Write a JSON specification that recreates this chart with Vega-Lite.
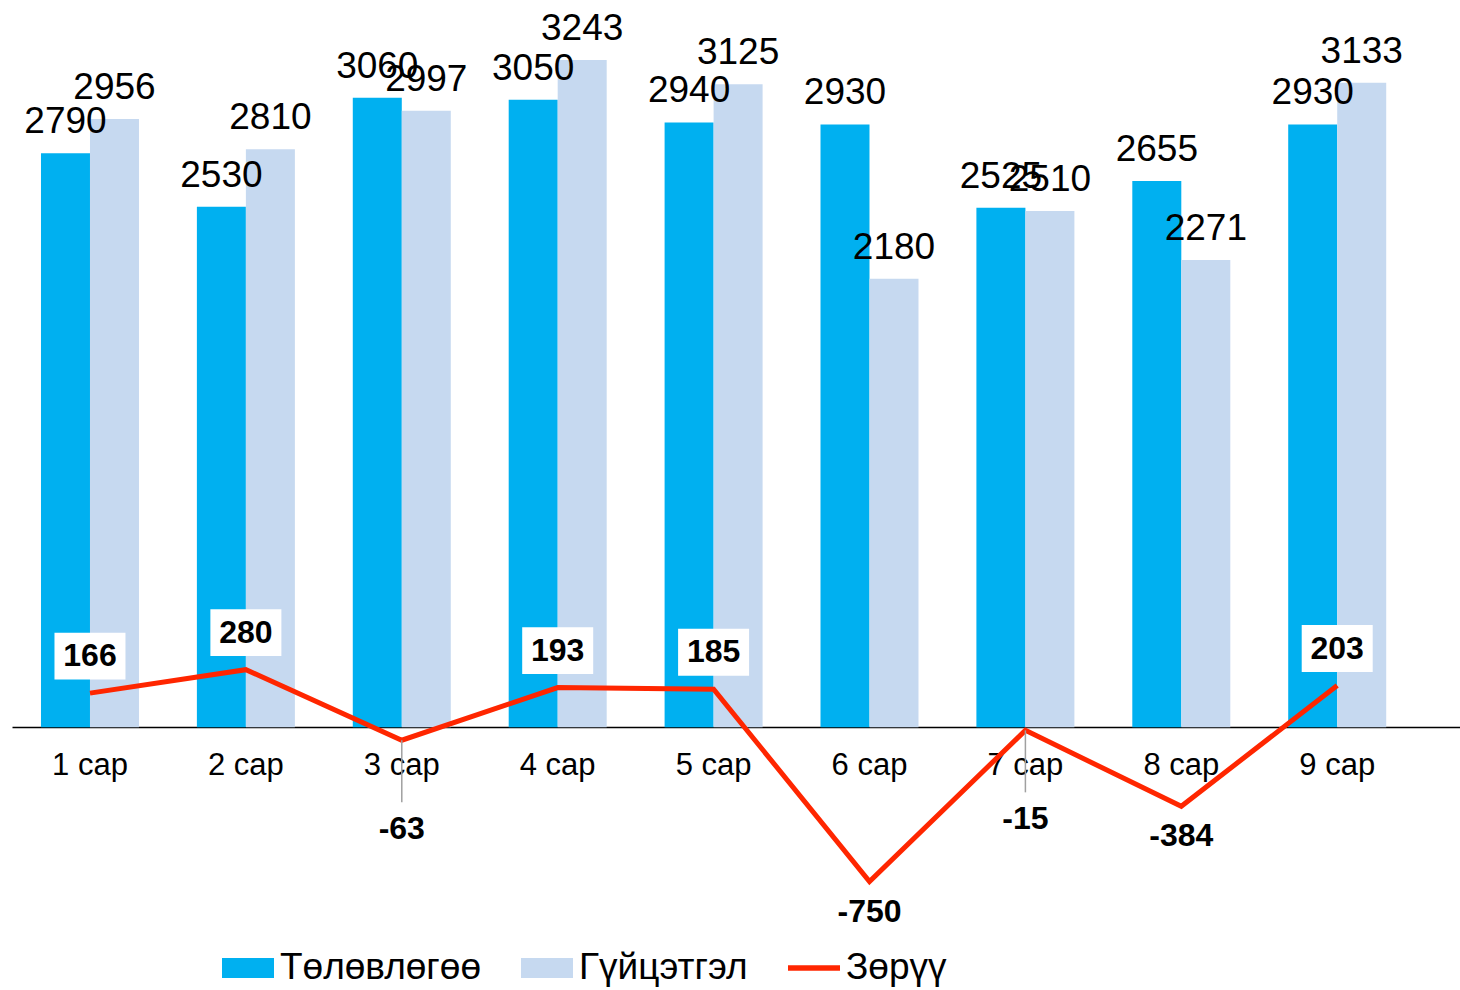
{
  "$schema": "https://vega.github.io/schema/vega-lite/v6.json",
  "width": 1448,
  "height": 933,
  "autosize": {"type": "none"},
  "padding": {"left": 12, "top": 0, "right": 0, "bottom": 57},
  "background": "white",
  "config": {"view": {"stroke": null}, "font": "Liberation Sans"},
  "data": {"values": [
    {"month": "1 сар", "Төлөвлөгөө": 2790, "Гүйцэтгэл": 2956, "Зөрүү": 166},
    {"month": "2 сар", "Төлөвлөгөө": 2530, "Гүйцэтгэл": 2810, "Зөрүү": 280},
    {"month": "3 сар", "Төлөвлөгөө": 3060, "Гүйцэтгэл": 2997, "Зөрүү": -63},
    {"month": "4 сар", "Төлөвлөгөө": 3050, "Гүйцэтгэл": 3243, "Зөрүү": 193},
    {"month": "5 сар", "Төлөвлөгөө": 2940, "Гүйцэтгэл": 3125, "Зөрүү": 185},
    {"month": "6 сар", "Төлөвлөгөө": 2930, "Гүйцэтгэл": 2180, "Зөрүү": -750},
    {"month": "7 сар", "Төлөвлөгөө": 2525, "Гүйцэтгэл": 2510, "Зөрүү": -15},
    {"month": "8 сар", "Төлөвлөгөө": 2655, "Гүйцэтгэл": 2271, "Зөрүү": -384},
    {"month": "9 сар", "Төлөвлөгөө": 2930, "Гүйцэтгэл": 3133, "Зөрүү": 203}
  ]},
  "encoding": {
    "x": {
      "field": "month", "type": "nominal", "sort": null,
      "scale": {"paddingInner": 0.3714, "paddingOuter": 0.3296, "align": 0.282},
      "axis": {"title": null, "orient": "bottom", "offset": -206, "domainColor": "#000000", "domainWidth": 1.5,
               "ticks": false, "tickSize": 0, "labelFontSize": 31, "labelColor": "#000000", "labelPadding": 23,
               "labelAngle": 0, "grid": false, "labelFont": "Liberation Sans"}
    }
  },
  "layer": [
    {
      "transform": [{"fold": ["Төлөвлөгөө", "Гүйцэтгэл"], "as": ["series", "value"]}],
      "encoding": {
        "xOffset": {"field": "series", "type": "nominal", "sort": ["Төлөвлөгөө", "Гүйцэтгэл"], "scale": {"paddingInner": 0, "paddingOuter": 0}},
        "y": {"field": "value", "type": "quantitative", "scale": {"domain": [-1000, 3535], "nice": false, "zero": true}, "axis": null}
      },
      "layer": [
        {
          "mark": {"type": "bar"},
          "encoding": {
            "color": {
              "field": "series", "type": "nominal",
              "scale": {"domain": ["Төлөвлөгөө", "Гүйцэтгэл", "Зөрүү"], "range": ["#00B0F0", "#C6D9F0", "#FF2600"]},
              "legend": {
                "title": null, "orient": "none", "legendX": 210, "legendY": 942, "direction": "horizontal",
                "labelFontSize": 37, "labelFont": "Liberation Sans", "labelColor": "#000000",
                "symbolSize": 2704, "labelOffset": 6, "columnPadding": 40, "padding": 0, "labelLimit": 400,
                "symbolStrokeWidth": 0,
                "encode": {"symbols": {"update": {
                  "shape": {"signal": "datum.value === 'Зөрүү' ? 'M-1,-0.11L1,-0.11L1,0.11L-1,0.11Z' : 'M-1,-0.38L1,-0.38L1,0.38L-1,0.38Z'"},
                  "fill": {"scale": "color", "field": "value"},
                  "strokeWidth": {"value": 0},
                  "opacity": {"value": 1}
                }}}
              }
            }
          }
        },
        {
          "mark": {"type": "text", "fontSize": 37, "dy": -20, "baseline": "alphabetic", "color": "#000000"},
          "encoding": {"text": {"field": "value", "type": "nominal"}}
        }
      ]
    },
    {
      "mark": {"type": "line", "color": "#FF2600", "strokeWidth": 5},
      "encoding": {"y": {"field": "Зөрүү", "type": "quantitative", "scale": {"domain": [-1000, 3535], "nice": false, "zero": true}, "axis": null}}
    },
    {
      "transform": [{"filter": "datum['Зөрүү'] < 0 && datum['Зөрүү'] > -100"}],
      "mark": {"type": "rule", "color": "#A0A0A0", "strokeWidth": 1.5, "y2Offset": 62},
      "encoding": {
        "y": {"field": "Зөрүү", "type": "quantitative", "scale": {"domain": [-1000, 3535], "nice": false, "zero": true}, "axis": null},
        "y2": {"field": "Зөрүү"}
      }
    },
    {
      "transform": [{"filter": "datum['Зөрүү'] > 0"}],
      "mark": {"type": "point", "shape": "M-1,-0.66L1,-0.66L1,0.66L-1,0.66Z", "size": 5041, "filled": true, "fill": "#FFFFFF", "opacity": 1, "strokeWidth": 0, "yOffset": -37},
      "encoding": {"y": {"field": "Зөрүү", "type": "quantitative", "scale": {"domain": [-1000, 3535], "nice": false, "zero": true}, "axis": null}}
    },
    {
      "transform": [{"filter": "datum['Зөрүү'] > 0"}],
      "mark": {"type": "text", "fontSize": 32, "fontWeight": "bold", "dy": -37, "baseline": "middle", "color": "#000000"},
      "encoding": {
        "y": {"field": "Зөрүү", "type": "quantitative", "scale": {"domain": [-1000, 3535], "nice": false, "zero": true}, "axis": null},
        "text": {"field": "Зөрүү", "type": "nominal"}
      }
    },
    {
      "transform": [{"filter": "datum['Зөрүү'] < 0 && datum['Зөрүү'] > -100"}],
      "mark": {"type": "text", "fontSize": 32, "fontWeight": "bold", "dy": 89, "baseline": "middle", "color": "#000000"},
      "encoding": {
        "y": {"field": "Зөрүү", "type": "quantitative", "scale": {"domain": [-1000, 3535], "nice": false, "zero": true}, "axis": null},
        "text": {"field": "Зөрүү", "type": "nominal"}
      }
    },
    {
      "transform": [{"filter": "datum['Зөрүү'] <= -100"}],
      "mark": {"type": "text", "fontSize": 32, "fontWeight": "bold", "dy": 30, "baseline": "middle", "color": "#000000"},
      "encoding": {
        "y": {"field": "Зөрүү", "type": "quantitative", "scale": {"domain": [-1000, 3535], "nice": false, "zero": true}, "axis": null},
        "text": {"field": "Зөрүү", "type": "nominal"}
      }
    }
  ]
}
